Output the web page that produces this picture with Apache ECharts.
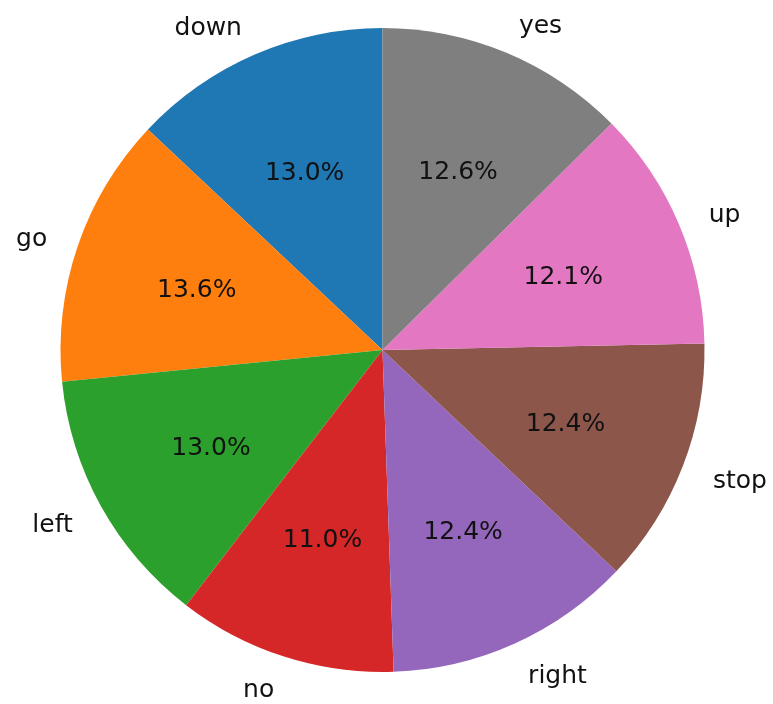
<!DOCTYPE html>
<html>
<head>
<meta charset="utf-8">
<script src="https://cdn.jsdelivr.net/npm/echarts@6/dist/echarts.min.js"></script>
<style>
  html, body { margin: 0; padding: 0; background: #ffffff; }
  #chart { width: 773px; height: 704px; }
</style>
</head>
<body>
<div id="chart"></div>
<script>
// Share of each spoken command (percent)
const commands = ['down', 'go', 'left', 'no', 'right', 'stop', 'up', 'yes'];
const shares = [13.0, 13.6, 13.0, 11.0, 12.4, 12.4, 12.1, 12.6];
const palette = ['#1f77b4', '#ff7f0e', '#2ca02c', '#d62728', '#9467bd', '#8c564b', '#e377c2', '#7f7f7f'];

const cx = 382.5, cy = 350, R = 322;
const fontFamily = 'DejaVu Sans';
const fontSize = 25;

// rich style: the top padding nudges each text a little below its anchor point
const richText = {
  t: {
    color: '#111111',
    fontFamily: fontFamily,
    fontSize: fontSize,
    padding: [7, 0, 0, 0]
  }
};

const sliceData = commands.map((name, i) => ({
  name: name,
  value: shares[i],
  itemStyle: { color: palette[i] }
}));

const chart = echarts.init(document.getElementById('chart'), null, { renderer: 'canvas' });
chart.setOption({
  animation: false,
  backgroundColor: '#ffffff',
  series: [
    {
      // filled slices with the category names outside
      type: 'pie',
      center: [cx, cy],
      radius: [0, R],
      startAngle: 90,
      clockwise: false,
      avoidLabelOverlap: false,
      silent: true,
      data: sliceData,
      label: {
        show: true,
        position: 'outside',
        formatter: p => '{t|' + p.name + '}',
        rich: richText,
        distanceToLabelLine: 0
      },
      labelLine: { show: false, length: R * 0.1, length2: 0 },
      emphasis: { disabled: true }
    },
    {
      // transparent ring whose centre line sits at 0.6 R, carrying the percentages
      type: 'pie',
      center: [cx, cy],
      radius: [R * 0.2, R],
      startAngle: 90,
      clockwise: false,
      avoidLabelOverlap: false,
      silent: true,
      data: commands.map((name, i) => ({ name: name, value: shares[i] })),
      itemStyle: { color: 'rgba(0,0,0,0)', borderWidth: 0 },
      label: {
        show: true,
        position: 'inside',
        formatter: p => '{t|' + p.value.toFixed(1) + '%}',
        rich: richText
      },
      labelLine: { show: false },
      emphasis: { disabled: true }
    }
  ]
});
</script>
</body>
</html>
